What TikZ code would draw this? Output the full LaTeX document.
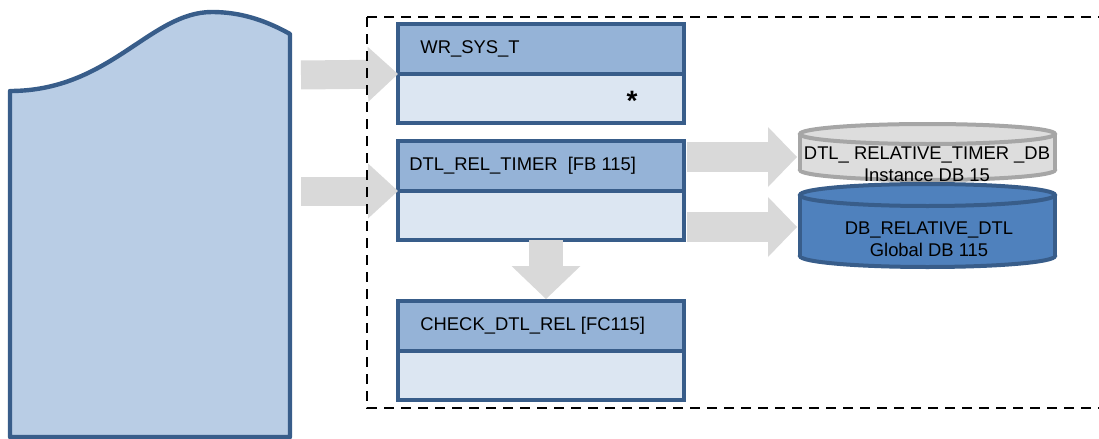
\documentclass[tikz,border=0pt]{standalone}
\usepackage{fontspec}
\setmainfont{Liberation Sans}
\usetikzlibrary{arrows.meta,positioning,calc}

\definecolor{docfill}{HTML}{B9CDE5}
\definecolor{boxborder}{HTML}{385D8A}
\definecolor{headfill}{HTML}{95B3D7}
\definecolor{bodyfill}{HTML}{DCE6F2}
\definecolor{flowgray}{HTML}{D9D9D9}
\definecolor{instfill}{HTML}{DDDDDD}
\definecolor{instborder}{HTML}{A6A6A6}
\definecolor{globfill}{HTML}{4F81BD}

\begin{document}
\begin{tikzpicture}[x=0.5pt,y=-0.5pt,
	fbhead/.style={draw=boxborder,fill=headfill,line width=2pt,minimum width=143pt,minimum height=25pt,outer sep=0pt,inner sep=0pt},
	fbbody/.style={draw=boxborder,fill=bodyfill,line width=2pt,minimum width=143pt,minimum height=24.5pt,outer sep=0pt,inner sep=0pt},
	fbtext/.style={anchor=west,inner sep=0pt,font=\fontsize{9.2}{11}\selectfont},
	dbtext/.style={align=center,inner sep=0pt,font=\fontsize{9.2}{11}\selectfont},
	flowh/.style={flowgray,line width=14.5pt,-{Triangle[length=15pt,width=27.5pt,line width=0pt]}},
	flowr/.style={flowgray,line width=15pt,-{Triangle[length=14.5pt,width=30pt,line width=0pt]}},
	flowv/.style={flowgray,line width=17pt,-{Triangle[length=16.5pt,width=34.5pt,line width=0pt]}},
	instcyl/.style={draw=instborder,fill=instfill,line width=2pt},
	globcyl/.style={draw=boxborder,fill=globfill,line width=2pt},
	calleeframe/.style={line width=1pt,dash pattern=on 5pt off 3.5pt}]

	\useasboundingbox (0,0) rectangle (1099,439);
	\clip (0,0) rectangle (1099,439);

	% calling block
	\filldraw[draw=boxborder,fill=docfill,line width=2.2pt,line join=round]
		(10,437) -- (10,91) .. controls (110,91) and (150,12) .. (212,12)
		.. controls (240,12) and (265,20) .. (290,34) -- (290,437) -- cycle;

	% called blocks
	\node[fbhead] (wrhead) at (541,49) {};
	\node[fbbody,below=0pt of wrhead] (wrbody) {};
	\node[fbhead,below=9pt of wrbody] (dtlhead) {};
	\node[fbbody,below=0pt of dtlhead] (dtlbody) {};
	\node[fbhead,below=30.5pt of dtlbody] (checkhead) {};
	\node[fbbody,below=0pt of checkhead] (checkbody) {};

	\node[fbtext] (wrlabel) at ([xshift=11pt]wrhead.west) {WR\_SYS\_T};
	\node[fbtext] (dtllabel) at ([xshift=5.5pt]dtlhead.west) {DTL\_REL\_TIMER\ \ [FB 115]};
	\node[fbtext] (checklabel) at ([xshift=11pt]checkhead.west) {CHECK\_DTL\_REL [FC115]};
	\node[inner sep=0pt,font=\bfseries\fontsize{14}{14}\selectfont] (star) at (632,101) {*};

	% data blocks
	\filldraw[instcyl] (927.5,170) ellipse (127.5 and 10);
	\fill[instfill] (800,134) rectangle (1055,170);
	\draw[instcyl] (800,134) -- (800,170) (1055,134) -- (1055,170);
	\filldraw[instcyl] (927.5,134) ellipse (127.5 and 10);
	\node[dbtext] (instdb) at (927,164) {DTL\_ RELATIVE\_TIMER \_DB\\Instance DB 15};

	\filldraw[globcyl] (927.5,256) ellipse (127.5 and 11);
	\fill[globfill] (800,195) rectangle (1055,256);
	\draw[globcyl] (800,195) -- (800,256) (1055,195) -- (1055,256);
	\filldraw[globcyl] (927.5,195) ellipse (127.5 and 11);
	\node[dbtext] (globdb) at (929,239) {DB\_RELATIVE\_DTL\\Global DB 115};

	% calls
	\coordinate (call1) at (301,75);
	\coordinate (call2) at (301,191);
	\draw[flowh] (call1) -- (wrhead.south west);
	\draw[flowh] (call2) -- (dtlhead.south west);
	\draw[flowv] ($(dtlbody.south)+(5,0)$) -- ($(checkhead.north)+(5,-2)$);

	\coordinate (instdb-w) at (797,157);
	\coordinate (globdb-w) at (797,227);
	\draw[flowr] ($(dtlhead.east |- instdb-w)+(3,0)$) -- (instdb-w);
	\draw[flowr] ($(dtlbody.east |- globdb-w)+(3,0)$) -- (globdb-w);

	\draw[calleeframe] (367,17) rectangle (1120,408);
\end{tikzpicture}
\end{document}
